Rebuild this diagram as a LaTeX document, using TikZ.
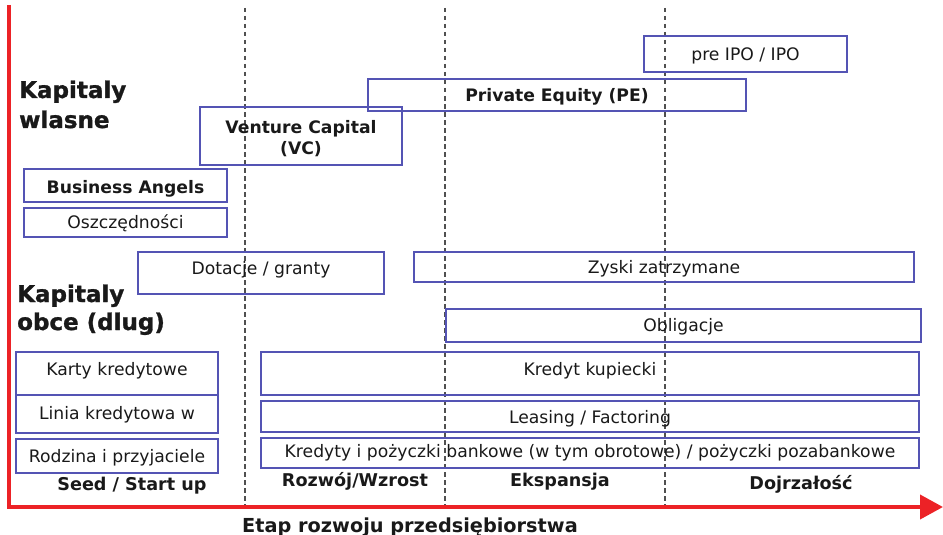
\documentclass[tikz,border=0pt]{standalone}
\usepackage{fontspec}
\setmainfont{DejaVu Sans}
\newfontfamily\headfont{DejaVu Sans Bold}[FakeBold=1.2]
\usetikzlibrary{arrows.meta}
\definecolor{boxblue}{RGB}{84,84,180}
\definecolor{axisred}{RGB}{236,34,38}
\definecolor{guidegray}{RGB}{80,80,80}
\definecolor{ink}{RGB}{25,25,25}
\tikzset{
  fbox/.style={draw=boxblue, line width=1.4pt, inner sep=0pt},
  lbl/.style={text=ink, inner sep=0pt, font=\fontsize{17.2}{20}\selectfont},
  blbl/.style={text=ink, inner sep=0pt, font=\fontsize{17.2}{21.5}\selectfont\bfseries},
  head/.style={text=ink, inner sep=0pt, anchor=base west, font=\fontsize{23}{26}\headfont},
  stagelbl/.style={text=ink, inner sep=0pt, anchor=base, font=\fontsize{17.6}{20}\selectfont\bfseries},
  guide/.style={draw=guidegray, line width=2pt, dash pattern=on 4.5pt off 3.5pt},
  axis/.style={draw=axisred, line width=4pt, line join=miter,
    -{Triangle[length=23pt,width=24pt]}}
}
\begin{document}
\begin{tikzpicture}[x=1pt,y=-1pt]
\useasboundingbox (0,0) rectangle (943,535);

% stage separators
\coordinate (g1t) at (245,8); \coordinate (g1b) at (245,506);
\coordinate (g2t) at (445,8); \coordinate (g2b) at (445,506);
\coordinate (g3t) at (665,8); \coordinate (g3b) at (665,506);
\draw[guide] (g1t) -- (g1b);
\draw[guide] (g2t) -- (g2b);
\draw[guide] (g3t) -- (g3b);

% own capital
\node[fbox, minimum width=203pt, minimum height=36pt] (ipo) at (745.5,54) {};
\node[lbl] (ipo-t) at ([yshift=-1.5pt]ipo.center) {pre IPO / IPO};
\node[fbox, minimum width=378pt, minimum height=32pt] (pe) at (557,95) {};
\node[blbl] (pe-t) at ([yshift=-1.5pt]pe.center) {Private Equity (PE)};
\node[fbox, minimum width=202pt, minimum height=58pt] (vc) at (301,136) {};
\node[blbl, align=center] (vc-t) at ([yshift=-2.5pt]vc.center) {Venture Capital\\(VC)};
\node[fbox, minimum width=203pt, minimum height=33pt] (ba) at (125.5,185.5) {};
\node[blbl] (ba-t) at ([yshift=-3pt]ba.center) {Business Angels};
\node[fbox, minimum width=203pt, minimum height=29pt] (osz) at (125.5,222.5) {};
\node[lbl] (osz-t) at ([yshift=-0.5pt]osz.center) {Oszczędności};

% debt and other sources
\node[fbox, minimum width=246pt, minimum height=42pt] (dot) at (261,273) {};
\node[lbl] (dot-t) at ([yshift=3.5pt]dot.center) {Dotacje / granty};
\node[fbox, minimum width=500pt, minimum height=30pt] (zysk) at (664,267) {};
\node[lbl] (zysk-t) at ([yshift=-1.5pt]zysk.center) {Zyski zatrzymane};
\node[fbox, minimum width=475pt, minimum height=33pt] (obl) at (683.5,325.5) {};
\node[lbl] (obl-t) at ([yshift=-1.5pt]obl.center) {Obligacje};

\node[fbox, minimum width=202pt, minimum height=43pt] (karty) at (117,373.5) {};
\node[lbl] (karty-t) at ([yshift=3pt]karty.center) {Karty kredytowe};
\node[fbox, minimum width=202pt, minimum height=38pt] (linia) at (117,414) {};
\node[lbl] (linia-t) at ([yshift=-1pt]linia.center) {Linia kredytowa w};
\node[fbox, minimum width=202pt, minimum height=34pt] (rodz) at (117,456) {};
\node[lbl] (rodz-t) at ([yshift=-1.5pt]rodz.center) {Rodzina i przyjaciele};

\node[fbox, minimum width=658pt, minimum height=43pt] (kk) at (590,373.5) {};
\node[lbl] (kk-t) at ([yshift=3pt]kk.center) {Kredyt kupiecki};
\node[fbox, minimum width=658pt, minimum height=31pt] (leas) at (590,416.5) {};
\node[lbl] (leas-t) at ([yshift=-2pt]leas.center) {Leasing / Factoring};
\node[fbox, minimum width=658pt, minimum height=30pt] (kred) at (590,453) {};
\node[lbl] (kred-t) at ([yshift=0pt]kred.center) {Kredyty i pożyczki bankowe (w tym obrotowe) / pożyczki pozabankowe};

% group headings
\node[head] (kw1) at (19,98) {Kapitaly};
\node[head] (kw2) at (19,128) {wlasne};
\node[head] (ko1) at (17,302) {Kapitaly};
\node[head] (ko2) at (17,330) {obce (dlug)};

% stage names
\node[stagelbl] (s1) at (132,490) {Seed / Start up};
\node[stagelbl] (s2) at (355,486) {Rozwój/Wzrost};
\node[stagelbl] (s3) at (560,486) {Ekspansja};
\node[stagelbl] (s4) at (801,489) {Dojrzałość};

% axes
\coordinate (ax-top) at (9,5);
\coordinate (ax-org) at (9,507);
\coordinate (ax-end) at (943,507);
\draw[axis] (ax-top) -- (ax-org) -- (ax-end);
\node[text=ink, inner sep=0pt, anchor=base, font=\fontsize{19.3}{22}\selectfont\bfseries] (xlab) at (410,532) {Etap rozwoju przedsiębiorstwa};
\end{tikzpicture}
\end{document}
